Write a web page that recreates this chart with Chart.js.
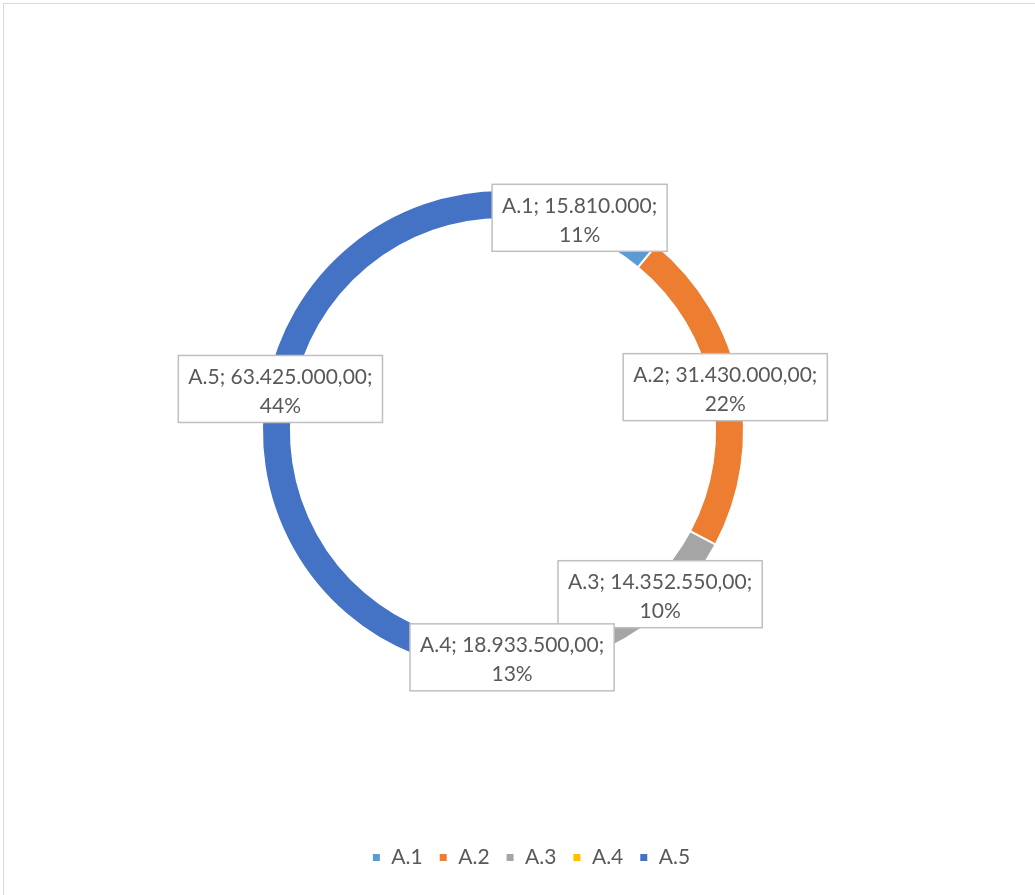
<!DOCTYPE html>
<html>
<head>
<meta charset="utf-8">
<script src="https://cdn.jsdelivr.net/npm/chart.js@4.4.1/dist/chart.umd.min.js"></script>
<style>
    html, body { margin: 0; padding: 0; background: #fff; overflow: hidden; }
    #frame {
        position: absolute;
        left: 3px;
        top: 3px;
        width: 1055px;
        height: 920px;
        border: 1px solid #d9d9d9;
    }
</style>
</head>
<body>
<div id="frame"><canvas id="grafico" width="1055" height="920"></canvas></div>
<script>
const categorias = ['A.1', 'A.2', 'A.3', 'A.4', 'A.5'];
const valores = [15810000, 31430000, 14352550, 18933500, 63425000];
const casasDecimais = [0, 2, 2, 2, 2];
const cores = ['#5B9BD5', '#ED7D31', '#A5A5A5', '#FFC000', '#4472C4'];

const fonte = 'Lato';
const corTexto = '#595959';

const formataValor = (v, casas) => v.toLocaleString('de-DE', {
    minimumFractionDigits: casas,
    maximumFractionDigits: casas
});

// caixas de rótulo no centro de cada fatia (estilo Excel)
const rotulosPlugin = {
    id: 'rotulos',
    afterDatasetsDraw(chart) {
        const ctx = chart.ctx;
        const meta = chart.getDatasetMeta(0);
        const total = valores.reduce((a, b) => a + b, 0);
        ctx.save();
        ctx.font = `21px ${fonte}`;
        meta.data.forEach((arc, i) => {
            const { x, y } = arc.getCenterPoint();
            const linha1 = `${categorias[i]}; ${formataValor(valores[i], casasDecimais[i])};`;
            const linha2 = `${Math.round(valores[i] / total * 100)}%`;
            const w = ctx.measureText(linha1).width + 20;
            const h = 67;
            ctx.fillStyle = '#FFFFFF';
            ctx.fillRect(x - w / 2, y - h / 2, w, h);
            ctx.strokeStyle = '#BFBFBF';
            ctx.lineWidth = 1.5;
            ctx.strokeRect(x - w / 2, y - h / 2, w, h);
            ctx.fillStyle = corTexto;
            ctx.textAlign = 'center';
            ctx.textBaseline = 'alphabetic';
            ctx.fillText(linha1, x, y - 5);
            ctx.fillText(linha2, x, y + 24);
        });
        ctx.restore();
    }
};

// a legenda fica centrada na moldura toda, não no anel
const legendaPlugin = {
    id: 'legendaDeslocada',
    afterLayout(chart) {
        chart.legend.left += 28;
        chart.legend.right += 28;
    }
};

const ctx = document.getElementById('grafico');
new Chart(ctx, {
    type: 'doughnut',
    data: {
        labels: categorias,
        datasets: [{
            data: valores,
            backgroundColor: cores,
            borderColor: '#FFFFFF',
            borderWidth: 2
        }]
    },
    options: {
        responsive: false,
        animation: false,
        radius: 241,
        cutout: '88%',
        layout: {
            padding: { left: 0, right: 57, top: 27, bottom: 46 }
        },
        plugins: {
            legend: {
                position: 'bottom',
                labels: {
                    boxWidth: 9,
                    boxHeight: 9,
                    padding: 16,
                    color: corTexto,
                    font: { size: 21, family: fonte }
                }
            },
            tooltip: { enabled: false }
        }
    },
    plugins: [rotulosPlugin, legendaPlugin]
});
</script>
</body>
</html>
